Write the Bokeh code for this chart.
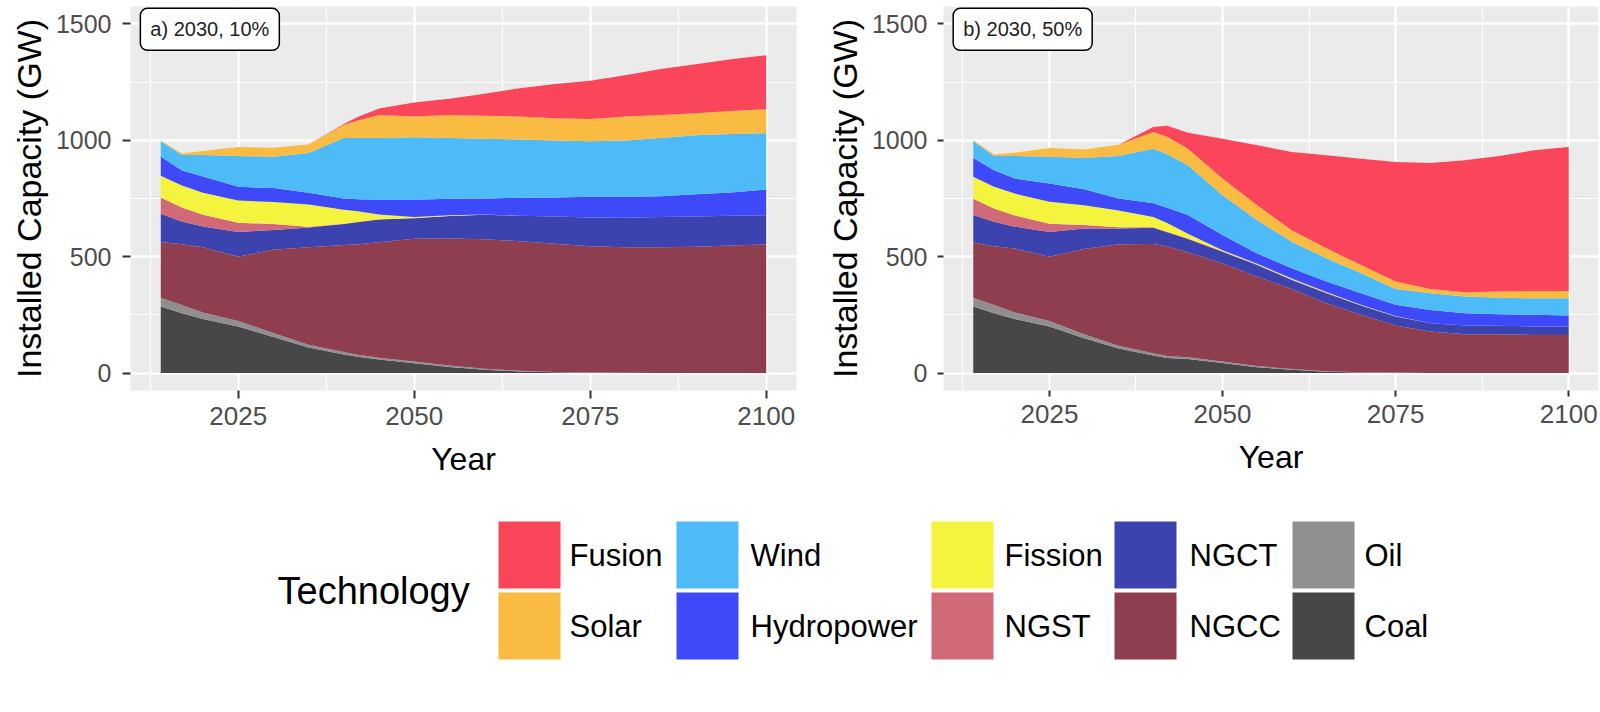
from bokeh.plotting import figure
from bokeh.models import ColumnDataSource, Range1d, FixedTicker, Label
from bokeh.layouts import column, row
from bokeh.embed import file_html
from bokeh.resources import INLINE
from bokeh.core.properties import value

# ---------------- data ----------------
years = [2014, 2017, 2020, 2025, 2030, 2035, 2040, 2042, 2045, 2050, 2055, 2060,
         2065, 2070, 2075, 2080, 2085, 2090, 2095, 2100]

technologies = ["Coal", "Oil", "NGCC", "NGCT", "NGST", "Fission",
                "Hydropower", "Wind", "Solar", "Fusion"]
colors = ["#474747", "#8F8F8F", "#8E3E4E", "#3D43AE", "#D16978", "#F4F43F",
          "#3E4AFA", "#4CBBF8", "#F9BB42", "#FA455A"]

# panel a) 2030, 10%  (GW)
coal_a = [286, 257, 232, 200, 155, 110, 80, 70, 58, 42, 26, 14, 7, 3, 1, 0, 0, 0, 0, 0]
oil_a = [38, 35, 28, 24, 17, 12, 10, 9, 8, 8, 6, 4, 3, 2, 1, 1, 0, 0, 0, 0]
ngcc_a = [239, 261, 280, 276, 358, 418, 460, 474, 496, 527, 546, 557, 556, 551, 543, 539, 540, 543, 548, 553]
ngct_a = [121, 98, 90, 106, 85, 85, 90, 95, 98, 88, 97, 105, 110, 117, 123, 127, 130, 130, 128, 125]
ngst_a = [70, 60, 50, 40, 25, 4, 2, 2, 1, 1, 0, 0, 0, 0, 0, 0, 0, 0, 0, 0]
fission_a = [94, 95, 95, 95, 95, 95, 60, 45, 20, 5, 3, 1, 0, 0, 0, 0, 0, 0, 0, 0]
hydro_a = [81, 64, 70, 59, 60, 51, 48, 52, 64, 74, 71, 69, 77, 81, 89, 90, 90, 95, 100, 110]
wind_a = [67, 67, 92, 133, 134, 170, 260, 263, 265, 268, 261, 257, 250, 245, 239, 242, 250, 254, 251, 243]
solar_a = [3, 6, 17, 38, 39, 37, 57, 75, 99, 89, 99, 99, 99, 96, 96, 103, 99, 94, 99, 103]
fusion_a = [0, 0, 0, 0, 0, 0, 3, 15, 28, 60, 70, 94, 122, 147, 164, 178, 197, 211, 222, 232]

# panel b) 2030, 50%  (GW)
coal_b = [286, 257, 232, 200, 150, 105, 75, 65, 60, 43, 25, 14, 6, 2, 1, 0, 0, 0, 0, 0]
oil_b = [38, 35, 28, 24, 17, 12, 10, 8, 8, 7, 5, 3, 2, 1, 1, 0, 0, 0, 0, 0]
ngcc_b = [237, 253, 275, 276, 366, 436, 470, 472, 451, 421, 384, 344, 292, 247, 202, 179, 167, 167, 164, 164]
ngct_b = [118, 105, 94, 106, 88, 68, 69, 60, 57, 50, 50, 39, 43, 40, 39, 35, 37, 36, 36, 36]
ngst_b = [70, 57, 48, 35, 15, 5, 2, 2, 2, 2, 2, 2, 2, 1, 1, 0, 0, 0, 0, 0]
fission_b = [94, 93, 94, 95, 85, 72, 45, 38, 20, 5, 4, 4, 3, 2, 1, 0, 0, 0, 0, 0]
hydro_b = [81, 71, 65, 78, 69, 52, 59, 65, 81, 65, 44, 44, 45, 50, 48, 57, 53, 50, 50, 47]
wind_b = [72, 62, 97, 115, 134, 183, 234, 230, 214, 171, 143, 114, 100, 86, 68, 72, 72, 71, 71, 74]
solar_b = [4, 6, 14, 38, 37, 48, 72, 75, 71, 72, 64, 50, 43, 35, 32, 18, 18, 26, 32, 32]
fusion_b = [0, 0, 0, 0, 0, 0, 21, 48, 69, 171, 258, 336, 400, 457, 514, 542, 567, 583, 604, 618]

x_ticks = [2025, 2050, 2075, 2100]
x_minor = [2012.5, 2037.5, 2062.5, 2087.5]
y_ticks = [0, 500, 1000, 1500]
y_minor = [250, 750, 1250]

panel_a_label = "a) 2030, 10%"
panel_b_label = "b) 2030, 50%"
x_title = "Year"
y_title = "Installed Capacity (GW)"
legend_title = "Technology"

FONT = value("Liberation Sans")


def make_panel(series, label_text, width, height, mb_left, mb_right, mb_top, mb_bottom,
               tick_out, y_standoff):
    data = {"year": years}
    for name, vals in zip(technologies, series):
        data[name] = vals
    src = ColumnDataSource(data)

    p = figure(width=width, height=height, output_backend="svg", toolbar_location=None,
               x_range=Range1d(2009.7, 2104.3), y_range=Range1d(-75, 1575),
               min_border_left=mb_left, min_border_right=mb_right,
               min_border_top=mb_top, min_border_bottom=mb_bottom)
    p.background_fill_color = "#EBEBEB"
    p.border_fill_color = "white"
    p.outline_line_color = None

    p.varea_stack(stackers=technologies, x="year", color=colors, source=src)

    p.xaxis.ticker = FixedTicker(ticks=x_ticks, minor_ticks=x_minor)
    p.yaxis.ticker = FixedTicker(ticks=y_ticks, minor_ticks=y_minor)

    for g in (p.xgrid, p.ygrid):
        g.grid_line_color = "white"
        g.grid_line_width = 2.5
        g.minor_grid_line_color = "white"
        g.minor_grid_line_width = 1.2

    for ax in (p.xaxis, p.yaxis):
        ax.axis_line_color = None
        ax.major_tick_line_color = "#333333"
        ax.major_tick_line_width = 2
        ax.major_tick_in = 0
        ax.major_tick_out = tick_out
        ax.minor_tick_line_color = None
        ax.major_label_text_font = "Liberation Sans"
        ax.major_label_text_color = "#4D4D4D"
        ax.axis_label_text_font = "Liberation Sans"
        ax.axis_label_text_font_style = "normal"
        ax.axis_label_text_color = "black"

    p.xaxis.major_label_text_font_size = "26px"
    p.xaxis.major_label_standoff = 8
    p.xaxis.axis_label = x_title
    p.xaxis.axis_label_text_font_size = "32px"
    p.xaxis.axis_label_standoff = 13

    p.yaxis.major_label_text_font_size = "25px"
    p.yaxis.major_label_standoff = y_standoff
    p.yaxis.axis_label = y_title
    p.yaxis.axis_label_text_font_size = "34px"
    p.yaxis.axis_label_standoff = 5

    lab = Label(x=2011.1, y=1567, text=label_text, anchor="top_left",
                text_font="Liberation Sans", text_font_size="20px", text_color="#222222",
                background_fill_color="white", border_line_color="black",
                border_line_width=1.5, padding=10, border_radius=7)
    p.add_layout(lab)
    return p


series_a = [coal_a, oil_a, ngcc_a, ngct_a, ngst_a, fission_a, hydro_a, wind_a, solar_a, fusion_a]
series_b = [coal_b, oil_b, ngcc_b, ngct_b, ngst_b, fission_b, hydro_b, wind_b, solar_b, fusion_b]

pa = make_panel(series_a, panel_a_label, 815, 495, 130, 19, 3, 100, 8, 11)
pb = make_panel(series_b, panel_b_label, 785, 495, 128, 2, 6, 105, 6, 10)

# ---------------- legend (ggplot style, 2 rows x 5 columns) ----------------
leg = figure(width=1600, height=217, output_backend="svg", toolbar_location=None,
             x_range=Range1d(0, 1600), y_range=Range1d(217, 0),
             min_border=0, x_axis_location=None, y_axis_location=None)
leg.grid.visible = False
leg.outline_line_color = None
leg.background_fill_color = "white"
leg.border_fill_color = "white"

legend_order = list(reversed(technologies))          # Fusion, Solar, Wind, ...
legend_colors = list(reversed(colors))
key_left = [498, 676, 931, 1114, 1292]
label_left = [569, 750, 1004, 1189, 1364]
row_top = [26, 97]
key_w, key_h = 62, 67

kx, ky, lx, ly = [], [], [], []
for i, name in enumerate(legend_order):
    c, r = divmod(i, 2)
    kx.append(key_left[c] + key_w / 2)
    ky.append(row_top[r] + key_h / 2)
    lx.append(label_left[c])
    ly.append(row_top[r] + key_h / 2)

leg.rect(x=kx, y=ky, width=key_w, height=key_h, fill_color=legend_colors, line_color=None)
leg.text(x=lx, y=ly, text=legend_order, text_font=FONT, text_font_size="31px",
         text_baseline="middle", text_align="left", text_color="black")
leg.text(x=[277], y=[95], text=[legend_title], text_font=FONT, text_font_size="38px",
         text_baseline="middle", text_align="left", text_color="black")

layout = column(row(pa, pb), leg)

open("out.html", "w").write(file_html(layout, INLINE))
